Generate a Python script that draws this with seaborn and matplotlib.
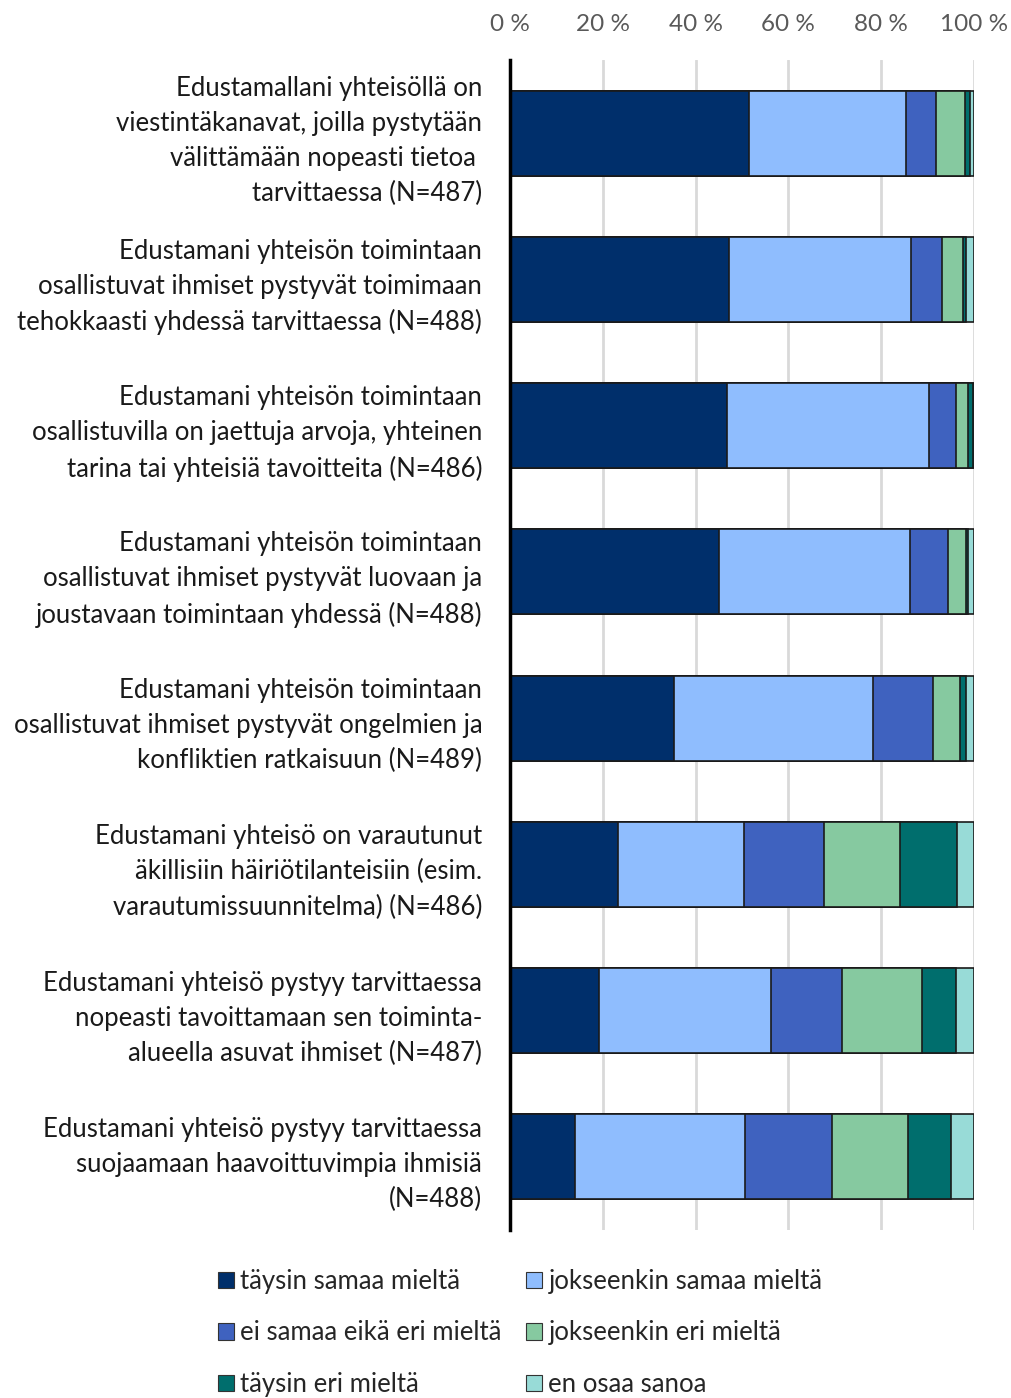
import pandas as pd
import matplotlib
matplotlib.use("Agg")
import matplotlib.pyplot as plt
from matplotlib.patches import Patch
from matplotlib.ticker import FuncFormatter
import seaborn as sns

# Väittämät (y-akselin nimet)
statements = [
    "Edustamallani yhteisöllä on\nviestintäkanavat, joilla pystytään\nvälittämään nopeasti tietoa \ntarvittaessa (N=487)",
    "Edustamani yhteisön toimintaan\nosallistuvat ihmiset pystyvät toimimaan\ntehokkaasti yhdessä tarvittaessa (N=488)",
    "Edustamani yhteisön toimintaan\nosallistuvilla on jaettuja arvoja, yhteinen\ntarina tai yhteisiä tavoitteita (N=486)",
    "Edustamani yhteisön toimintaan\nosallistuvat ihmiset pystyvät luovaan ja\njoustavaan toimintaan yhdessä (N=488)",
    "Edustamani yhteisön toimintaan\nosallistuvat ihmiset pystyvät ongelmien ja\nkonfliktien ratkaisuun (N=489)",
    "Edustamani yhteisö on varautunut\näkillisiin häiriötilanteisiin (esim.\nvarautumissuunnitelma) (N=486)",
    "Edustamani yhteisö pystyy tarvittaessa\nnopeasti tavoittamaan sen toiminta-\nalueella asuvat ihmiset (N=487)",
    "Edustamani yhteisö pystyy tarvittaessa\nsuojaamaan haavoittuvimpia ihmisiä\n(N=488)",
]

answers = [
    "täysin samaa mieltä",
    "jokseenkin samaa mieltä",
    "ei samaa eikä eri mieltä",
    "jokseenkin eri mieltä",
    "täysin eri mieltä",
    "en osaa sanoa",
]

# Osuudet (%) väittämittäin, luettu kuvasta
taysin_samaa = [51.5, 47.3, 46.7, 45.0, 35.3, 23.3, 19.1, 14.0]
jokseenkin_samaa = [33.8, 39.1, 43.5, 41.2, 42.9, 27.2, 37.1, 36.7]
ei_samaa_eika_eri = [6.5, 6.6, 6.0, 8.1, 13.0, 17.1, 15.4, 18.8]
jokseenkin_eri = [6.3, 4.7, 2.6, 4.0, 5.7, 16.5, 17.3, 16.3]
taysin_eri = [1.0, 0.6, 0.9, 0.5, 1.4, 12.2, 7.2, 9.2]
en_osaa = [0.9, 1.7, 0.3, 1.2, 1.7, 3.7, 3.9, 5.0]

colors = ["#002f6b", "#8fbdfe", "#3f62bf", "#86c9a0", "#006e6d", "#98dbd7"]

df = pd.DataFrame({
    "statement": statements,
    answers[0]: taysin_samaa,
    answers[1]: jokseenkin_samaa,
    answers[2]: ei_samaa_eika_eri,
    answers[3]: jokseenkin_eri,
    answers[4]: taysin_eri,
    answers[5]: en_osaa,
})

# Kumulatiiviset summat pinottuja palkkeja varten
cum = df[answers].cumsum(axis=1)
cum["statement"] = df["statement"]

sns.set_style("white")
plt.rcParams["font.family"] = ["Lato", "DejaVu Sans"]

fig = plt.figure(figsize=(10.11, 13.98), dpi=100)
ax = fig.add_axes([510 / 1011, 1 - 1230 / 1398, 464 / 1011, 1170 / 1398])

# Piirretään suurimmasta pienimpään, jolloin kerrokset näkyvät pinona
for ans, col in reversed(list(zip(answers, colors))):
    sns.barplot(data=cum, x=ans, y="statement", order=statements, color=col,
                width=0.58, edgecolor="#1a1a1a", linewidth=1.2,
                saturation=1, ax=ax, zorder=3)

ax.set_xlim(0, 100)
ax.set_ylim(7.5, -0.5)
ax.set_xlabel("")
ax.set_ylabel("")
ax.xaxis.tick_top()
ax.set_xticks([0, 20, 40, 60, 80, 100])
ax.xaxis.set_major_formatter(FuncFormatter(lambda v, p: f"{int(v)} %"))
ax.tick_params(axis="x", length=0, pad=18, labelsize=17.5, labelcolor="#595959")
ax.tick_params(axis="y", length=0, pad=20, labelsize=18.5, labelcolor="#1a1a1a")
for lab in ax.get_yticklabels():
    lab.set_linespacing(1.5)
ax.grid(axis="x", color="#d9d9d9", linewidth=2, zorder=0)
ax.set_axisbelow(True)
for s in ["top", "right", "bottom"]:
    ax.spines[s].set_visible(False)
ax.spines["left"].set_color("black")
ax.spines["left"].set_linewidth(2.5)
ax.spines["left"].set_zorder(5)

handles = [Patch(facecolor=c, edgecolor="#333333", linewidth=0.8, label=a)
           for a, c in zip(answers, colors)]
order = [0, 2, 4, 1, 3, 5]
fig.legend([handles[i] for i in order], [answers[i] for i in order],
           loc="upper left", bbox_to_anchor=(218 / 1011, 1 - 1269 / 1398),
           ncol=2, frameon=False, fontsize=18.5, handlelength=0.62,
           handleheight=0.62, handletextpad=0.25, columnspacing=0.95,
           labelspacing=1.03, borderpad=0, borderaxespad=0)

fig.savefig("out.png", dpi=100)
